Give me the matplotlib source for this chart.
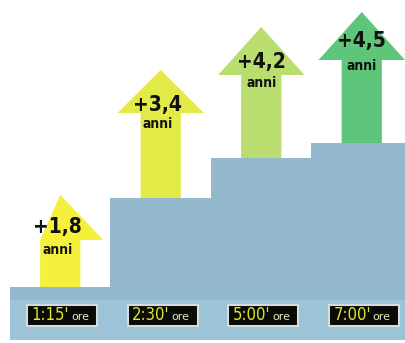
import matplotlib
matplotlib.use("Agg")
import matplotlib.pyplot as plt
from matplotlib.patches import Polygon, FancyBboxPatch

# ---- data ----
durations = ["1:15'", "2:30'", "5:00'", "7:00'"]
unit_label = "ore"
gain_labels = ["+1,8", "+3,4", "+4,2", "+4,5"]
gain_unit = "anni"
step_heights = [53, 142, 182, 197]        # height of the blue steps
arrow_tips = [145, 270, 313, 328]         # height of arrow tips
arrow_colors = ["#f4f03c", "#e2ea48", "#b9dd6e", "#5fc57b"]
step_color = "#94b8cc"

W, H, DPI = 406, 343, 100
fig = plt.figure(figsize=(W / DPI, H / DPI), dpi=DPI)
fig.patch.set_facecolor("white")
ax = fig.add_axes([0, 0, 1, 1])
ax.set_xlim(-10 / 100.5 - 0.5, 396 / 100.5 - 0.5)
ax.set_ylim(-3, 340)
ax.axis("off")

x = list(range(len(durations)))

# arrows
shaft_hw = 0.20
head_hw = 0.43
head_len = [45, 43, 48, 48]
for i, (tip, col, hl) in enumerate(zip(arrow_tips, arrow_colors, head_len)):
    hb = tip - hl
    if i == 0:
        pts = [(i - shaft_hw, 0), (i - shaft_hw, hb), (i, tip),
               (i + head_hw, hb), (i + shaft_hw, hb), (i + shaft_hw, 0)]
    else:
        pts = [(i - shaft_hw, 0), (i - shaft_hw, hb), (i - head_hw, hb), (i, tip),
               (i + head_hw, hb), (i + shaft_hw, hb), (i + shaft_hw, 0)]
    ax.add_patch(Polygon(pts, closed=True, facecolor=col, edgecolor="none", zorder=1))

# blue staircase
ax.bar(x, step_heights, width=1.0, bottom=0, color=step_color, edgecolor="none", zorder=2)
ax.bar(x, [40] * 4, width=1.0, bottom=0, color="#9cc3d7", edgecolor="none", zorder=2)

# gain labels
lab_font = ["DejaVu Sans"]
lab_off = [(-0.03, -32, -55), (-0.03, -35, -54), (0.0, -35, -56), (0.0, -29, -54)]
for i, (lab, tip, (dx, dy1, dy2)) in enumerate(zip(gain_labels, arrow_tips, lab_off)):
    ax.text(i + dx, tip + dy1, lab, ha="center", va="center", fontsize=15,
            fontweight="bold", fontstretch="condensed", family=lab_font,
            color="#111111", zorder=4)
    ax.text(i + dx, tip + dy2, gain_unit, ha="center", va="center", fontsize=10,
            fontweight="bold", fontstretch="condensed", family=lab_font,
            color="#111111", zorder=4)

# time boxes
bw, bh, by = 0.70, 21, 14
for i, d in enumerate(durations):
    cx = i + 0.02
    ax.add_patch(FancyBboxPatch((cx - bw / 2, by), bw, bh, boxstyle="square,pad=0",
                                facecolor="#0a0a06", edgecolor="#d4dcdc", linewidth=1.5, zorder=3))
    ax.text(cx + 0.07, by + bh / 2, d, ha="right", va="center", fontsize=12,
            family=["DejaVu Sans"], fontstretch="condensed", color="#dfe62e", zorder=4)
    ax.text(cx + 0.09, by + bh / 2 - 1, unit_label, ha="left", va="center", fontsize=8,
            family=["DejaVu Sans"], color="#e6ebb8", zorder=4)

fig.savefig("out.png", dpi=DPI, facecolor="white")
